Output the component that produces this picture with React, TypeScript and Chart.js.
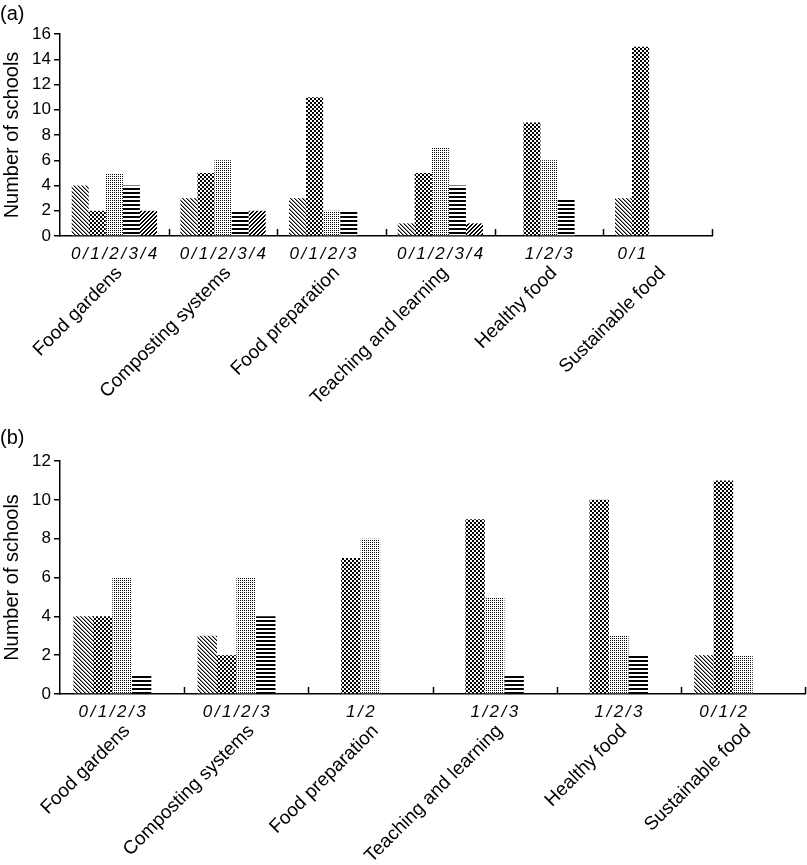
import React, { useEffect, useRef } from 'react';
import { Chart, registerables } from 'chart.js';

Chart.register(...registerables);

const categories = [
  'Food gardens',
  'Composting systems',
  'Food preparation',
  'Teaching and learning',
  'Healthy food',
  'Sustainable food',
];
const levels = ['0', '1', '2', '3', '4'];

// Panel (a)
const aLevel0 = [4, 3, 3, 1, null, 3];
const aLevel1 = [2, 5, 11, 5, 9, 15];
const aLevel2 = [5, 6, 2, 7, 6, null];
const aLevel3 = [4, 2, 2, 4, 3, null];
const aLevel4 = [2, 2, null, 1, null, null];
const aMax = 16;

// Panel (b)
const bLevel0 = [4, 3, null, null, null, 2];
const bLevel1 = [4, 2, 7, 9, 10, 11];
const bLevel2 = [6, 6, 8, 5, 3, 2];
const bLevel3 = [1, 4, null, 1, 2, null];
const bLevel4 = [null, null, null, null, null, null];
const bMax = 12;
const tickStep = 2;

const FONT = '"Liberation Sans", Arial, Helvetica, sans-serif';

const patternDefs: string[][] = [
  ['#+..', '.#+.', '..#+', '+..#'],
  ['##..', '##..', '..##', '..##'],
  ['#.', '..'],
  ['####', '####', '....', '....'],
  ['#..#', '..##', '.##.', '##..'],
];

function makePattern(rows: string[]): CanvasPattern | string {
  const h = rows.length;
  const w = rows[0].length;
  const c = document.createElement('canvas');
  c.width = w;
  c.height = h;
  const ctx = c.getContext('2d');
  if (!ctx) return '#888';
  const img = ctx.createImageData(w, h);
  for (let y = 0; y < h; y++) {
    for (let x = 0; x < w; x++) {
      const ch = rows[y][x];
      const v = ch === '#' ? 0 : ch === '+' ? 150 : 255;
      const k = (y * w + x) * 4;
      img.data[k] = v;
      img.data[k + 1] = v;
      img.data[k + 2] = v;
      img.data[k + 3] = 255;
    }
  }
  ctx.putImageData(img, 0, 0);
  const p = ctx.createPattern(c, 'repeat');
  return p || '#888';
}

const subLabelPlugin = {
  id: 'subLabels',
  afterDraw(chart: any) {
    const ctx = chart.ctx;
    const xs = chart.scales.x;
    const n = chart.data.labels.length;
    ctx.save();
    ctx.strokeStyle = '#000';
    ctx.lineWidth = 1.5;
    for (let k = 1; k <= n; k++) {
      const x = Math.round(xs.getPixelForValue(k - 0.5)) + 0.5;
      ctx.beginPath();
      ctx.moveTo(x, xs.top);
      ctx.lineTo(x, xs.top - 7);
      ctx.stroke();
    }
    ctx.font = `italic 17px ${FONT}`;
    try {
      (ctx as any).letterSpacing = '2.5px';
    } catch (e) {}
    ctx.fillStyle = '#000';
    ctx.textAlign = 'center';
    ctx.textBaseline = 'middle';
    for (let j = 0; j < n; j++) {
      const present: number[] = [];
      chart.data.datasets.forEach((ds: any, i: number) => {
        if (ds.data[j] !== null && ds.data[j] !== undefined) present.push(i);
      });
      if (!present.length) continue;
      const first = chart.getDatasetMeta(present[0]).data[j];
      const last = chart.getDatasetMeta(present[present.length - 1]).data[j];
      const x = (first.x + last.x) / 2 + 1;
      ctx.fillText(present.map((i) => levels[i]).join('/'), x, xs.top + 18);
    }
    ctx.restore();
  },
};

function BarPanel(props: {
  series: (number | null)[][];
  max: number;
  width: number;
  height: number;
  padTop: number;
  padRight: number;
  xHeight: number;
}) {
  const ref = useRef<HTMLCanvasElement | null>(null);
  useEffect(() => {
    if (!ref.current) return;
    const datasets = props.series.map((data, i) => ({
      label: levels[i],
      data,
      backgroundColor: makePattern(patternDefs[i]),
      borderWidth: 0,
      barPercentage: 1,
      categoryPercentage: 0.785,
    }));
    const chart = new Chart(ref.current, {
      type: 'bar',
      data: { labels: categories, datasets },
      options: {
        animation: false,
        responsive: false,
        maintainAspectRatio: false,
        layout: { padding: { top: props.padTop, right: props.padRight, left: 0, bottom: 0 } },
        plugins: {
          legend: { display: false },
          tooltip: { enabled: false },
          title: { display: false },
        },
        scales: {
          x: {
            type: 'category',
            offset: true,
            grid: { display: false, drawTicks: false },
            border: { display: true, color: '#000', width: 1.5 },
            ticks: {
              color: '#000',
              font: { family: FONT, size: 19 },
              minRotation: 45,
              maxRotation: 45,
              autoSkip: false,
              padding: 26,
              labelOffset: 5,
            },
            afterFit: (s: any) => {
              s.height = props.xHeight;
              s.paddingLeft = 0;
              s.paddingRight = 0;
            },
          },
          y: {
            min: 0,
            max: props.max,
            ticks: {
              stepSize: tickStep,
              color: '#000',
              font: { family: FONT, size: 17 },
              padding: 3,
            },
            grid: {
              drawOnChartArea: false,
              drawTicks: true,
              tickLength: 6,
              color: '#000',
              lineWidth: 1.5,
            },
            border: { display: true, color: '#000', width: 1.5 },
            title: {
              display: true,
              text: 'Number of schools',
              color: '#000',
              font: { family: FONT, size: 20 },
              padding: 0,
            },
            afterFit: (s: any) => {
              s.width = 60;
            },
          },
        },
      } as any,
      plugins: [subLabelPlugin],
    });
    return () => chart.destroy();
  }, []);
  return (
    <canvas
      ref={ref}
      width={props.width}
      height={props.height}
      style={{ display: 'block', width: props.width, height: props.height }}
    />
  );
}

export default function App() {
  const labelStyle: React.CSSProperties = {
    position: 'absolute',
    left: 0,
    fontFamily: FONT,
    fontSize: 20,
    color: '#000',
    lineHeight: '22px',
  };
  return (
    <div
      style={{
        position: 'absolute',
        left: 0,
        top: 0,
        width: 807,
        height: 865,
        background: '#fff',
        overflow: 'hidden',
      }}
    >
      <div style={{ position: 'absolute', left: 0, top: 0 }}>
        <BarPanel
          series={[aLevel0, aLevel1, aLevel2, aLevel3, aLevel4]}
          max={aMax}
          width={807}
          height={440}
          padTop={34}
          padRight={95}
          xHeight={204}
        />
      </div>
      <div style={{ position: 'absolute', left: 0, top: 440 }}>
        <BarPanel
          series={[bLevel0, bLevel1, bLevel2, bLevel3, bLevel4]}
          max={bMax}
          width={807}
          height={425}
          padTop={21}
          padRight={2}
          xHeight={171}
        />
      </div>
      <div style={{ ...labelStyle, top: 2 }}>(a)</div>
      <div style={{ ...labelStyle, top: 426 }}>(b)</div>
    </div>
  );
}
